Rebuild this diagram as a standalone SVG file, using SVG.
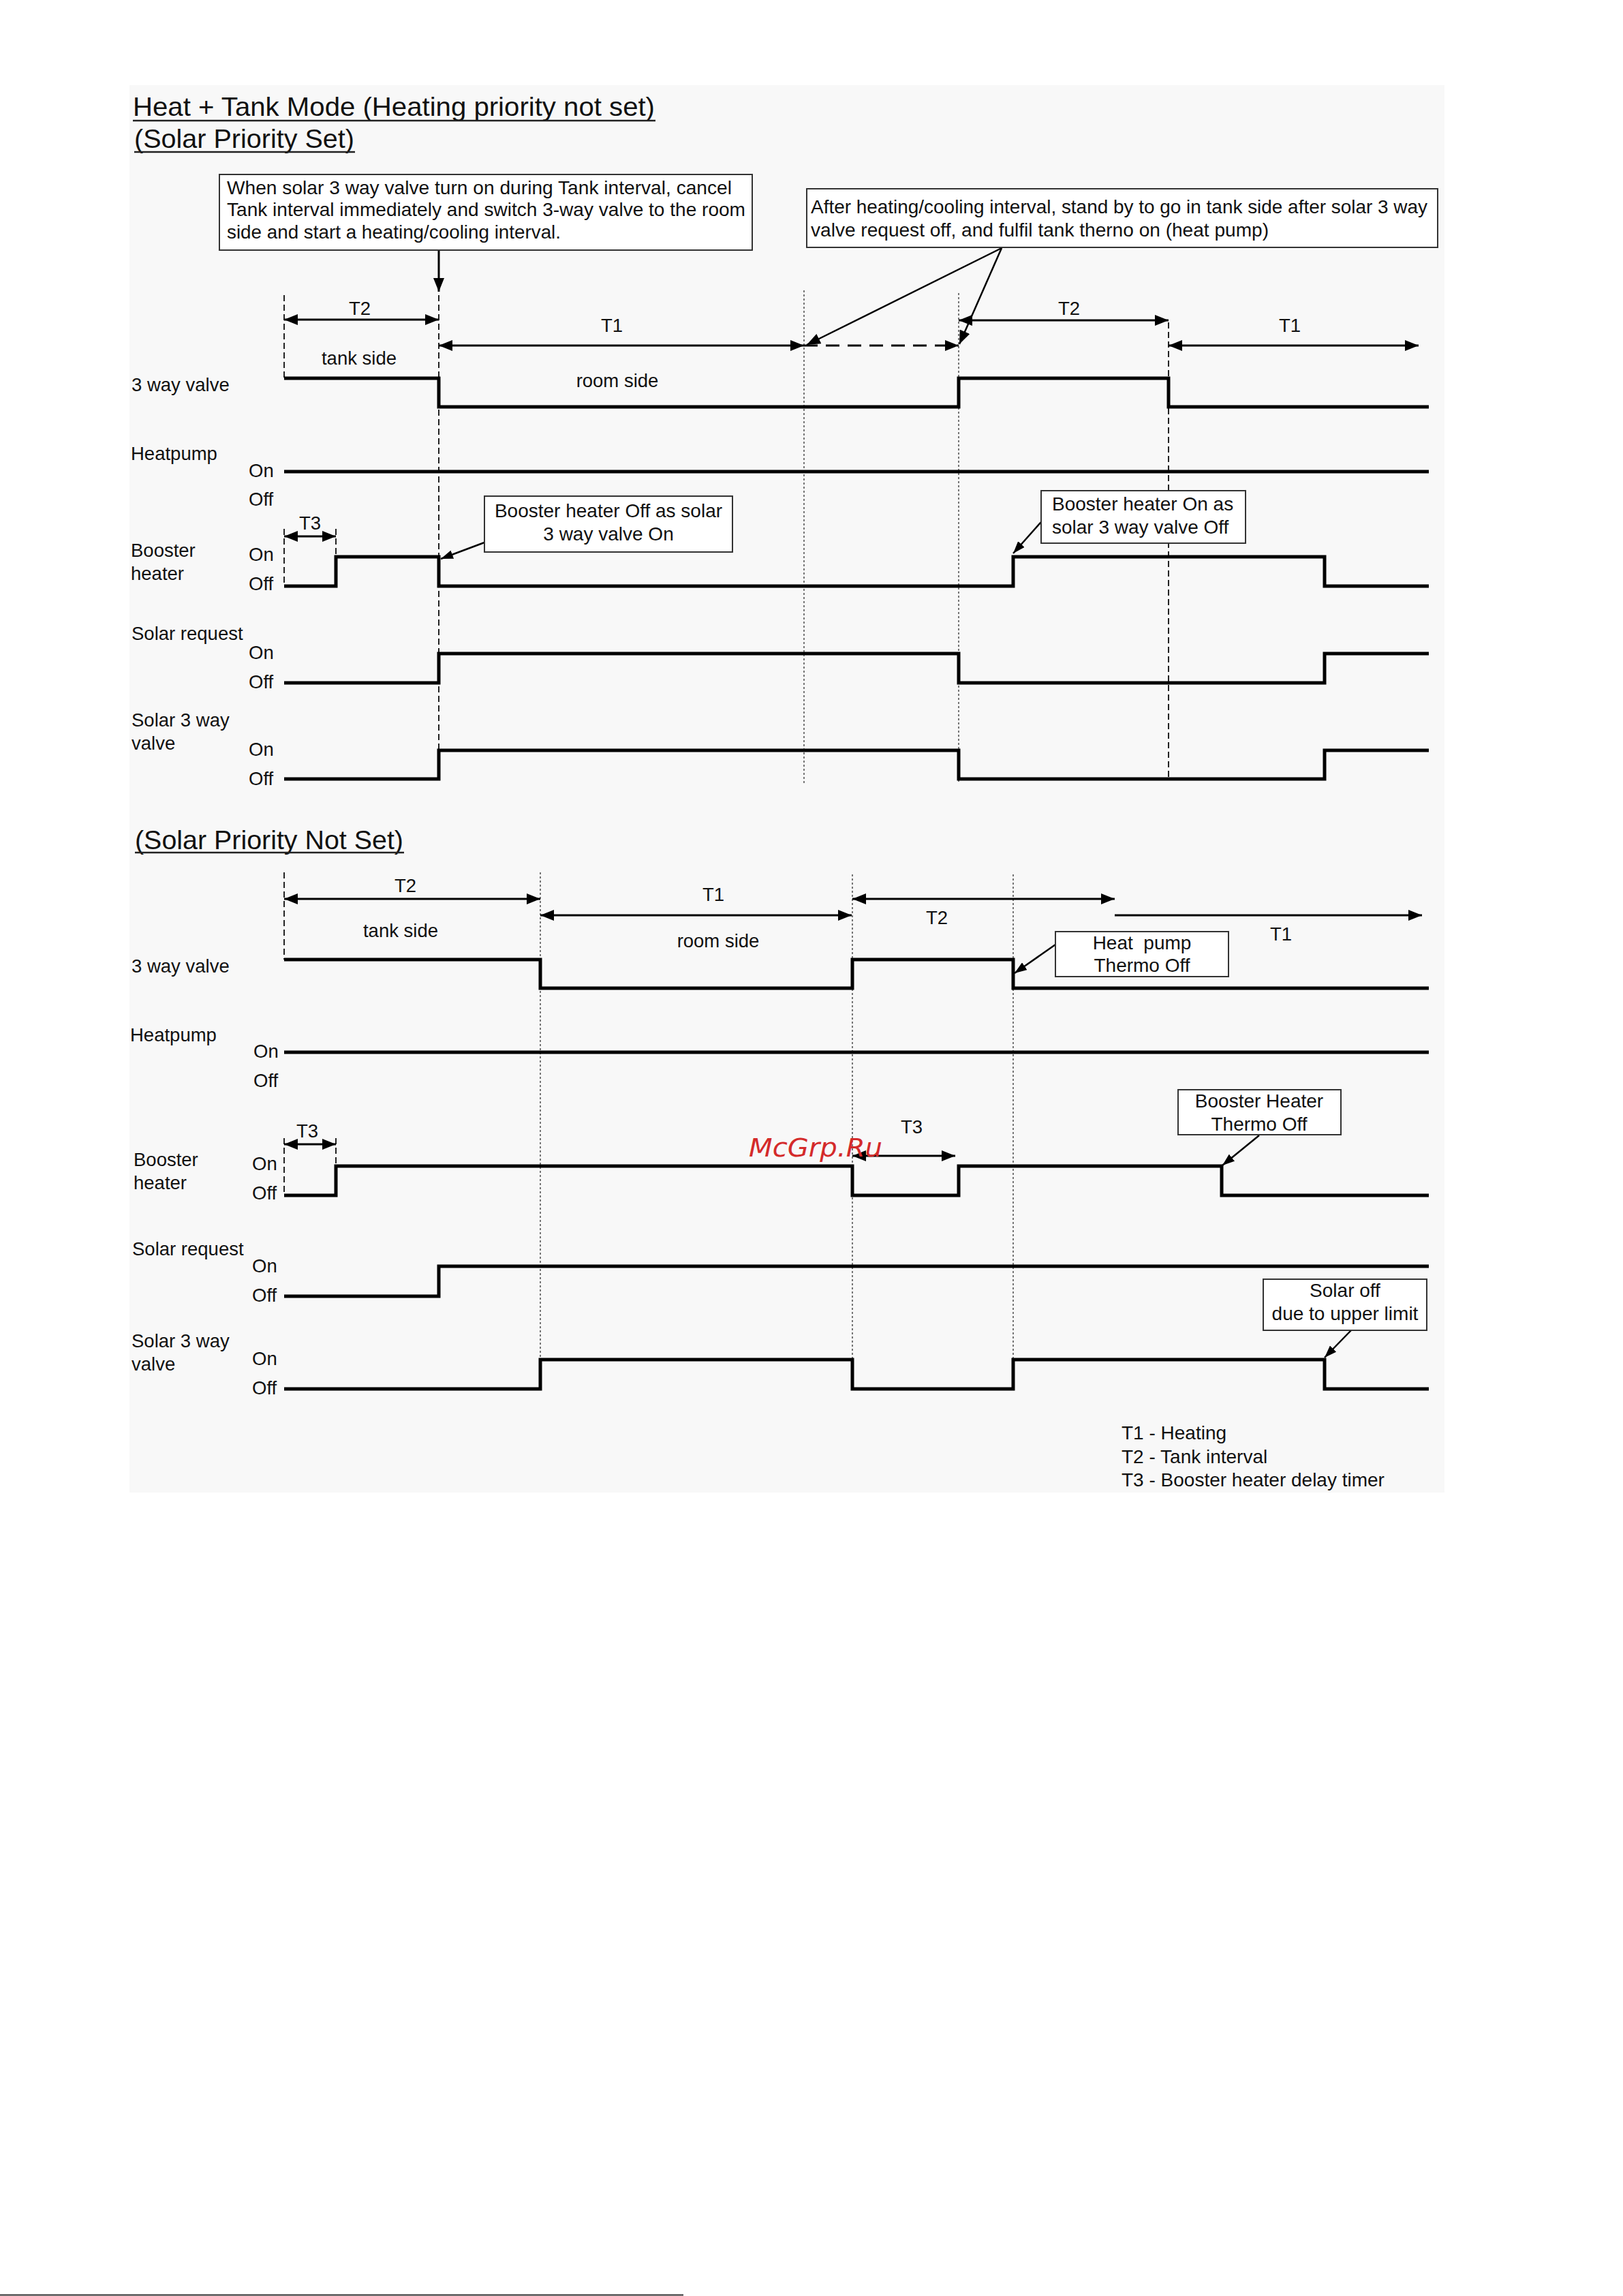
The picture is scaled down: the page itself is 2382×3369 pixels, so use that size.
<svg xmlns="http://www.w3.org/2000/svg" width="2382" height="3369" viewBox="0 0 2382 3369">
<style>
text{font-family:"Liberation Sans",Arial,sans-serif;fill:#111}
.t{font-size:27.5px}
.b{font-size:28px}
.h{font-size:39.5px}
.m{text-anchor:middle}
.sig{fill:none;stroke:#000;stroke-width:5;stroke-linejoin:miter}
.dim{fill:none;stroke:#000;stroke-width:3}
.dsh{fill:none;stroke:#000;stroke-width:3;stroke-dasharray:20 12}
.guide{fill:none;stroke:#222;stroke-width:2;stroke-dasharray:9 5}
.dot{fill:none;stroke:#555;stroke-width:1.6;stroke-dasharray:3 3}
.call{fill:none;stroke:#000;stroke-width:2.5}
.box{fill:#fff;stroke:#333;stroke-width:2}
.ul{stroke:#222;stroke-width:2.5}
</style>
<defs>
<marker id="ah" viewBox="0 0 20 16" refX="20" refY="8" markerWidth="20" markerHeight="16" markerUnits="userSpaceOnUse" orient="auto-start-reverse"><path d="M0,0 L20,8 L0,16 z" fill="#000"/></marker>
<marker id="ahs" viewBox="0 0 18 13" refX="18" refY="6.5" markerWidth="18" markerHeight="13" markerUnits="userSpaceOnUse" orient="auto"><path d="M0,0 L18,6.5 L0,13 z" fill="#000"/></marker>
</defs>
<rect x="0" y="0" width="2382" height="3369" fill="#fff"/>
<rect x="190" y="125" width="1930" height="2065" fill="#f8f8f8"/>

<g id="titles">
<text class="h" x="195" y="170" textLength="766" lengthAdjust="spacingAndGlyphs">Heat + Tank Mode (Heating priority not set)</text>
<line class="ul" x1="195" y1="177" x2="962" y2="177"/>
<text class="h" x="197" y="217" textLength="323" lengthAdjust="spacingAndGlyphs">(Solar Priority Set)</text>
<line class="ul" x1="197" y1="223" x2="521" y2="223"/>
<text class="h" x="198" y="1246" textLength="394" lengthAdjust="spacingAndGlyphs">(Solar Priority Not Set)</text>
<line class="ul" x1="198" y1="1251" x2="593" y2="1251"/>
</g>

<g id="connectors">
<!-- section 1 guides -->
<line class="guide" x1="417" y1="433" x2="417" y2="555"/>
<line class="guide" x1="644" y1="433" x2="644" y2="1143"/>
<line class="dot" x1="1180" y1="426" x2="1180" y2="1150"/>
<line class="dot" x1="1407" y1="430" x2="1407" y2="1150"/>
<line class="guide" x1="1715" y1="473" x2="1715" y2="1143"/>
<line class="guide" x1="417" y1="776" x2="417" y2="860"/>
<line class="guide" x1="493" y1="776" x2="493" y2="817"/>
<!-- section 1 dimension arrows -->
<line class="dim" x1="417" y1="469" x2="644" y2="469" marker-start="url(#ah)" marker-end="url(#ah)"/>
<line class="dim" x1="644" y1="507" x2="1180" y2="507" marker-start="url(#ah)" marker-end="url(#ah)"/>
<line class="dsh" x1="1180" y1="507" x2="1407" y2="507" marker-end="url(#ah)"/>
<line class="dim" x1="1407" y1="470" x2="1715" y2="470" marker-start="url(#ah)" marker-end="url(#ah)"/>
<line class="dim" x1="1715" y1="507" x2="2082" y2="507" marker-start="url(#ah)" marker-end="url(#ah)"/>
<line class="dim" x1="417" y1="787" x2="493" y2="787" marker-start="url(#ah)" marker-end="url(#ah)"/>
<!-- section 1 callouts -->
<line class="dim" x1="644" y1="368" x2="644" y2="428" marker-end="url(#ah)"/>
<line class="call" x1="1470" y1="364" x2="1184" y2="506" marker-end="url(#ah)"/>
<line class="call" x1="1470" y1="364" x2="1408" y2="505" marker-end="url(#ah)"/>
<line class="call" x1="711" y1="796" x2="647" y2="820" marker-end="url(#ahs)"/>
<line class="call" x1="1528" y1="766" x2="1487" y2="812" marker-end="url(#ahs)"/>
<!-- section 2 guides -->
<line class="guide" x1="417" y1="1280" x2="417" y2="1408"/>
<line class="dot" x1="793" y1="1280" x2="793" y2="1995"/>
<line class="dot" x1="1251" y1="1283" x2="1251" y2="2038"/>
<line class="dot" x1="1487" y1="1283" x2="1487" y2="2038"/>
<line class="guide" x1="417" y1="1670" x2="417" y2="1754"/>
<line class="guide" x1="493" y1="1670" x2="493" y2="1711"/>
<!-- section 2 dimension arrows -->
<line class="dim" x1="417" y1="1319" x2="793" y2="1319" marker-start="url(#ah)" marker-end="url(#ah)"/>
<line class="dim" x1="793" y1="1343" x2="1250" y2="1343" marker-start="url(#ah)" marker-end="url(#ah)"/>
<line class="dim" x1="1251" y1="1319" x2="1636" y2="1319" marker-start="url(#ah)" marker-end="url(#ah)"/>
<line class="dim" x1="1636" y1="1343" x2="2087" y2="1343" marker-end="url(#ah)"/>
<line class="dim" x1="417" y1="1679" x2="493" y2="1679" marker-start="url(#ah)" marker-end="url(#ah)"/>
<line class="dim" x1="1251" y1="1696" x2="1402" y2="1696" marker-start="url(#ah)" marker-end="url(#ah)"/>
<!-- section 2 callouts -->
<line class="call" x1="1549" y1="1386" x2="1489" y2="1428" marker-end="url(#ahs)"/>
<line class="call" x1="1848" y1="1666" x2="1794" y2="1710" marker-end="url(#ahs)"/>
<line class="call" x1="1983" y1="1952" x2="1944" y2="1992" marker-end="url(#ahs)"/>
</g>

<g id="signals-1">
<path class="sig" d="M417,555 H644 V597 H1407 V555 H1715 V597 H2097"/>
<path class="sig" d="M417,692 H2097"/>
<path class="sig" d="M417,860 H493 V817 H644 V860 H1487 V817 H1944 V860 H2097"/>
<path class="sig" d="M417,1002 H644 V959 H1407 V1002 H1944 V959 H2097"/>
<path class="sig" d="M417,1143 H644 V1101 H1407 V1143 H1944 V1101 H2097"/>
</g>

<g id="signals-2">
<path class="sig" d="M417,1408 H793 V1450 H1251 V1408 H1487 V1450 H2097"/>
<path class="sig" d="M417,1544 H2097"/>
<path class="sig" d="M417,1754 H493 V1711 H1251 V1754 H1407 V1711 H1793 V1754 H2097"/>
<path class="sig" d="M417,1902 H644 V1858 H2097"/>
<path class="sig" d="M417,2038 H793 V1995 H1251 V2038 H1487 V1995 H1944 V2038 H2097"/>
</g>

<g id="labels-1">
<text class="t" x="193" y="574">3 way valve</text>
<text class="t" x="192" y="675">Heatpump</text>
<text class="t" x="365" y="700">On</text>
<text class="t" x="365" y="742">Off</text>
<text class="t" x="192" y="817">Booster</text>
<text class="t" x="192" y="851">heater</text>
<text class="t" x="365" y="823">On</text>
<text class="t" x="365" y="866">Off</text>
<text class="t" x="193" y="939">Solar request</text>
<text class="t" x="365" y="967">On</text>
<text class="t" x="365" y="1010">Off</text>
<text class="t" x="193" y="1066">Solar 3 way</text>
<text class="t" x="193" y="1100">valve</text>
<text class="t" x="365" y="1109">On</text>
<text class="t" x="365" y="1152">Off</text>
<text class="t m" x="528" y="462">T2</text>
<text class="t m" x="527" y="535">tank side</text>
<text class="t m" x="898" y="487">T1</text>
<text class="t m" x="906" y="568">room side</text>
<text class="t m" x="1569" y="462">T2</text>
<text class="t m" x="1893" y="487">T1</text>
<text class="t m" x="455" y="777">T3</text>
</g>

<g id="labels-2">
<text class="t" x="193" y="1427">3 way valve</text>
<text class="t" x="191" y="1528">Heatpump</text>
<text class="t" x="372" y="1552">On</text>
<text class="t" x="372" y="1595">Off</text>
<text class="t" x="196" y="1711">Booster</text>
<text class="t" x="196" y="1745">heater</text>
<text class="t" x="370" y="1717">On</text>
<text class="t" x="370" y="1760">Off</text>
<text class="t" x="194" y="1842">Solar request</text>
<text class="t" x="370" y="1867">On</text>
<text class="t" x="370" y="1910">Off</text>
<text class="t" x="193" y="1977">Solar 3 way</text>
<text class="t" x="193" y="2011">valve</text>
<text class="t" x="370" y="2003">On</text>
<text class="t" x="370" y="2046">Off</text>
<text class="t m" x="595" y="1309">T2</text>
<text class="t m" x="588" y="1375">tank side</text>
<text class="t m" x="1047" y="1322">T1</text>
<text class="t m" x="1054" y="1390">room side</text>
<text class="t m" x="1375" y="1356">T2</text>
<text class="t m" x="1880" y="1380">T1</text>
<text class="t m" x="451" y="1669">T3</text>
<text class="t m" x="1338" y="1663">T3</text>
</g>

<g id="note-solar-on">
<rect class="box" x="322" y="256" width="782" height="111"/>
<text class="b" x="333" y="285" textLength="741" lengthAdjust="spacingAndGlyphs">When solar 3 way valve turn on during Tank interval, cancel</text>
<text class="b" x="333" y="317" textLength="761" lengthAdjust="spacingAndGlyphs">Tank interval immediately and switch 3-way valve to the room</text>
<text class="b" x="333" y="350" textLength="490" lengthAdjust="spacingAndGlyphs">side and start a heating/cooling interval.</text>
</g>

<g id="note-standby">
<rect class="box" x="1184" y="277" width="926" height="86"/>
<text class="b" x="1190" y="313" textLength="905" lengthAdjust="spacingAndGlyphs">After heating/cooling interval, stand by to go in tank side after solar 3 way</text>
<text class="b" x="1190" y="347" textLength="672" lengthAdjust="spacingAndGlyphs">valve request off, and fulfil tank therno on (heat pump)</text>
</g>

<g id="note-booster-off">
<rect class="box" x="711" y="728" width="364" height="82"/>
<text class="b m" x="893" y="759">Booster heater Off as solar</text>
<text class="b m" x="893" y="793">3 way valve On</text>
</g>

<g id="note-booster-on">
<rect class="box" x="1528" y="720" width="300" height="77"/>
<text class="b" x="1544" y="749">Booster heater On as</text>
<text class="b" x="1544" y="783">solar 3 way valve Off</text>
</g>

<g id="note-hp-thermo-off">
<rect class="box" x="1549" y="1367" width="254" height="66"/>
<text class="b m" x="1676" y="1393" xml:space="preserve">Heat  pump</text>
<text class="b m" x="1676" y="1426">Thermo Off</text>
</g>

<g id="note-bh-thermo-off">
<rect class="box" x="1729" y="1599" width="239" height="66"/>
<text class="b m" x="1848" y="1625">Booster Heater</text>
<text class="b m" x="1848" y="1659">Thermo Off</text>
</g>

<g id="note-solar-off">
<rect class="box" x="1854" y="1877" width="240" height="75"/>
<text class="b m" x="1974" y="1903">Solar off</text>
<text class="b m" x="1974" y="1937">due to upper limit</text>
</g>

<g id="legend">
<text class="b" x="1646" y="2112">T1 - Heating</text>
<text class="b" x="1646" y="2147">T2 - Tank interval</text>
<text class="b" x="1646" y="2181">T3 - Booster heater delay timer</text>
</g>

<g id="watermark">
<text x="1099" y="1697" font-family="'DejaVu Sans',sans-serif" font-style="italic" font-size="38" fill="#d42a2a" style="fill:#d42a2a;font-family:'DejaVu Sans',sans-serif" textLength="196" lengthAdjust="spacingAndGlyphs">McGrp.Ru</text>
</g>

<g id="page-edge">
<line x1="0" y1="3367.5" x2="1003" y2="3367.5" stroke="#333" stroke-width="2"/>
</g>
</svg>
